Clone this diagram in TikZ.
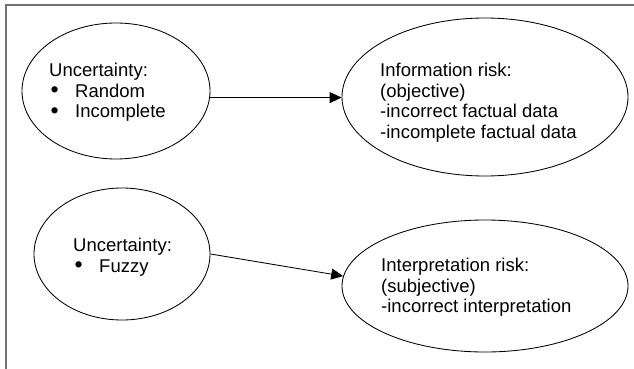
\documentclass[tikz,border=0pt]{standalone}
\usepackage{fontspec}
\usepackage{graphicx}
\setmainfont{Liberation Sans}
\usetikzlibrary{shapes.geometric,arrows.meta}
% bullet with its hanging indent
\newcommand\bulitem{\makebox[26pt][l]{\hspace{1.5pt}\raisebox{-0.6pt}{\scalebox{1.25}{\textbullet}}}}
\begin{document}
\begin{tikzpicture}[x=1pt,y=-1pt,
  bubble/.style={draw=black, line width=0.85pt, ellipse, inner sep=0pt},
  txt/.style={anchor=north west, inner sep=0pt, align=left,
              font=\fontsize{18.5}{20.8}\selectfont},
  link/.style={draw=black, line width=0.85pt, -{Triangle[length=12pt,width=11pt]}},
  frame/.style={draw=black!55, line width=2pt}]
\useasboundingbox (0,0) rectangle (634,369);
% page frame (top and left edges)
\draw[frame] (5.5,369) -- (5.5,5.5) -- (634,5.5);

% ellipses
\node[bubble, minimum width=188pt, minimum height=136pt] (e1) at (116,91) {};
\node[bubble, minimum width=286pt, minimum height=158pt] (e2) at (485,97) {};
\node[bubble, minimum width=176pt, minimum height=132pt] (e3) at (122,254) {};
\node[bubble, minimum width=286pt, minimum height=132pt] (e4) at (485,286) {};

% texts
\node[txt] (t1) at (49,62.7) {Uncertainty:\\\bulitem Random\\\bulitem Incomplete};
\node[txt] (t2) at (380,62.7) {Information risk:\\(objective)\\-incorrect factual data\\-incomplete factual data};
\node[txt] (t3) at (73,237.7) {Uncertainty:\\\bulitem Fuzzy};
\node[txt] (t4) at (381,257.7) {Interpretation risk:\\(subjective)\\-incorrect interpretation};

% connectors
\draw[link] (e1.-4.9) -- (e1.-4.9 -| e2.west);
\draw[link] (e3.east) -- (e4.176.4);
\end{tikzpicture}
\end{document}
